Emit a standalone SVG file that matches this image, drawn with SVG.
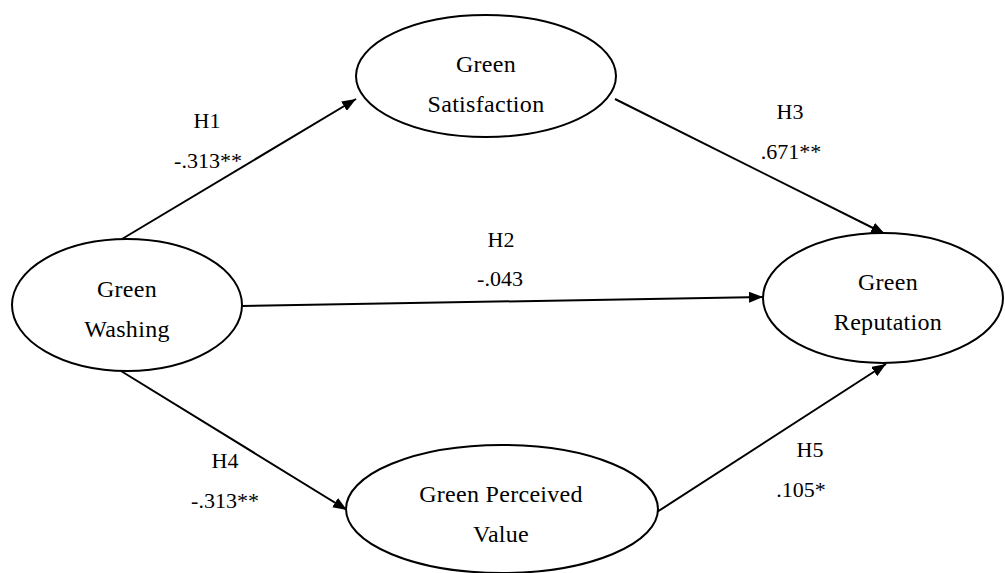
<svg xmlns="http://www.w3.org/2000/svg" width="1005" height="573" viewBox="0 0 1005 573">
<style>
.n{fill:#fff;stroke:#000;stroke-width:2}
.c{stroke:#000;stroke-width:2;fill:none;marker-end:url(#ah)}
text{font-family:"Liberation Serif","Times New Roman",serif;font-size:24px;fill:#000;text-anchor:middle;letter-spacing:0.3px}
.l{font-size:22px;letter-spacing:0}
</style>
<defs>
<marker id="ah" markerUnits="userSpaceOnUse" markerWidth="14" markerHeight="11" refX="14" refY="5.5" orient="auto">
<path d="M0,0 L14,5.5 L0,11 Z" fill="#000"/>
</marker>
</defs>
<rect width="1005" height="573" fill="#fff"/>
<g id="connectors">
<path class="c" d="M122,239 L356,99"/>
<path class="c" d="M242,306 L763,297"/>
<path class="c" d="M615,99 L885,234"/>
<path class="c" d="M121,371 L347,510"/>
<path class="c" d="M657,512 L886,364"/>
<text class="l" x="207" y="128">H1</text>
<text class="l" x="208" y="168">-.313**</text>
<text class="l" x="501" y="247">H2</text>
<text class="l" x="500" y="286">-.043</text>
<text class="l" x="790" y="119">H3</text>
<text class="l" x="791" y="159">.671**</text>
<text class="l" x="225" y="468">H4</text>
<text class="l" x="225" y="508">-.313**</text>
<text class="l" x="810" y="457">H5</text>
<text class="l" x="801" y="497">.105*</text>
</g>
<g id="green-washing">
<ellipse class="n" cx="127" cy="305" rx="115" ry="66"/>
<text x="127" y="297">Green</text>
<text x="127" y="337">Washing</text>
</g>
<g id="green-satisfaction">
<ellipse class="n" cx="486" cy="76" rx="130" ry="61"/>
<text x="486" y="72">Green</text>
<text x="486" y="112">Satisfaction</text>
</g>
<g id="green-reputation">
<ellipse class="n" cx="883" cy="298" rx="120" ry="65"/>
<text x="888" y="290">Green</text>
<text x="888" y="330">Reputation</text>
</g>
<g id="green-perceived-value">
<ellipse class="n" cx="502" cy="509" rx="156" ry="64"/>
<text x="501" y="502">Green Perceived</text>
<text x="501" y="542">Value</text>
</g>
</svg>
